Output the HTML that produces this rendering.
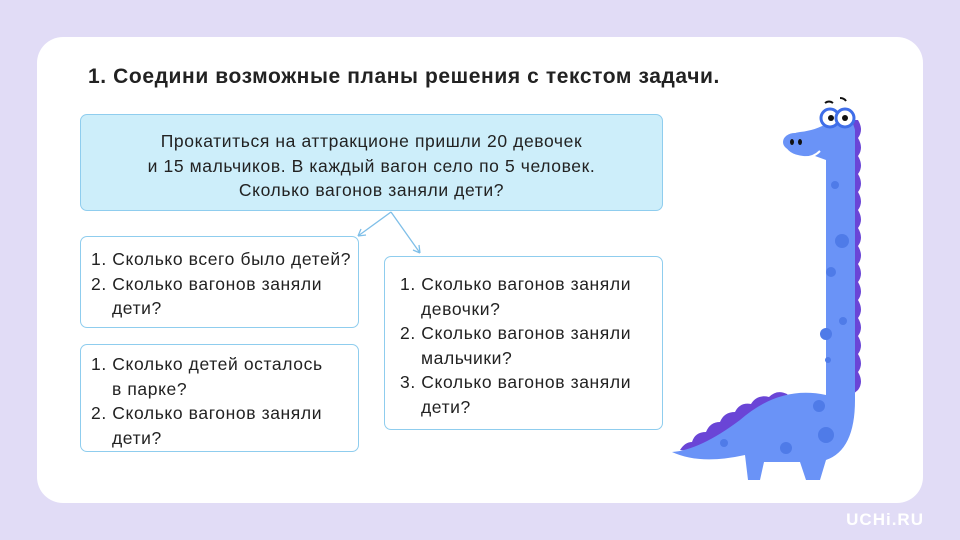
<!DOCTYPE html>
<html><head><meta charset="utf-8"><style>
body{margin:0;width:960px;height:540px;background:#e1dcf6;position:relative;overflow:hidden;font-family:"Liberation Sans",sans-serif;}
.card{position:absolute;left:37px;top:37px;width:886px;height:466px;background:#fff;border-radius:26px;}
.t{position:absolute;left:88px;top:65px;font-size:21px;letter-spacing:0.6px;font-weight:bold;color:#222;white-space:nowrap;}
.b{position:absolute;box-sizing:border-box;border:1.5px solid #8fcdee;border-radius:7px;background:#fff;font-size:17.5px;letter-spacing:0.6px;line-height:24.5px;color:#222;white-space:nowrap;}
.b p{margin:0;}
.i{padding-left:21px;}
.top{left:80px;top:114px;width:583px;height:97px;background:#cdeefa;text-align:center;padding-top:14px;}
.u{position:absolute;right:36px;bottom:10px;color:#fff;font-weight:bold;font-size:17px;letter-spacing:1px;}
</style></head><body>
<div class="card"></div>
<div class="t">1. Соедини возможные планы решения с текстом задачи.</div>
<div class="b top">Прокатиться на аттракционе пришли 20 девочек<br>и 15 мальчиков. В каждый вагон село по 5 человек.<br>Сколько вагонов заняли дети?</div>
<div class="b" style="left:80px;top:236px;width:279px;height:92px;padding:10px 0 0 10px"><p>1. Сколько всего было детей?</p><p>2. Сколько вагонов заняли</p><p class="i">дети?</p></div>
<div class="b" style="left:80px;top:344px;width:279px;height:108px;padding:7px 0 0 10px"><p>1. Сколько детей осталось</p><p class="i">в парке?</p><p>2. Сколько вагонов заняли</p><p class="i">дети?</p></div>
<div class="b" style="left:384px;top:256px;width:279px;height:174px;padding:15px 0 0 15px"><p>1. Сколько вагонов заняли</p><p class="i">девочки?</p><p>2. Сколько вагонов заняли</p><p class="i">мальчики?</p><p>3. Сколько вагонов заняли</p><p class="i">дети?</p></div>
<svg style="position:absolute;left:0;top:0" width="960" height="540">
<g stroke="#7fbfe8" stroke-width="1.3" fill="none">
<path d="M391 212 L358 236 M358 236 l8 -1 M358 236 l3 -7"/>
<path d="M391 212 L420 253 M420 253 l-1 -8 M420 253 l-7 -3"/>
</g>
<g>
<path d="M858 120 q6 10 0 18 q6 10 0 18 q6 10 0 18 q6 10 0 18 q6 10 0 18 q6 10 0 18 q6 10 0 18 q6 10 0 18 q6 10 0 18 q6 10 0 18 q6 10 0 18 q6 10 0 18 q6 10 0 18 q6 10 0 18 q6 10 0 18 L846 400 L846 120Z" fill="#6a45d6"/>
<path d="M680 450 q5 -8 12 -8 q3 -10 14 -10 q4 -10 14 -10 q4 -10 15 -10 q5 -10 16 -8 q6 -10 18 -7 q8 -8 18 -3 L800 410 L700 452Z" fill="#6a45d6"/>
<path d="M826 160 L826 395 Q780 385 740 420 Q700 450 672 452 Q700 465 745 455 L748 480 L760 480 L764 462 L800 462 L806 480 L820 480 L826 460 Q855 450 855 400 L855 130 Q850 110 835 118 Q820 130 800 132 Q785 134 785 145 Q790 158 815 156 Z" fill="#6a93f7"/>
<ellipse cx="795" cy="142" rx="12" ry="9" fill="#6a93f7"/>
<circle cx="830" cy="118" r="9" fill="#fff" stroke="#3f6ee8" stroke-width="3"/>
<circle cx="845" cy="118" r="9" fill="#fff" stroke="#3f6ee8" stroke-width="3"/>
<circle cx="831" cy="118" r="3" fill="#111"/><circle cx="845" cy="118" r="3" fill="#111"/>
<path d="M825 103 q4 -3 8 0 M840 98 q4 0 6 3" stroke="#111" stroke-width="2" fill="none"/>
<ellipse cx="792" cy="142" rx="2" ry="3" fill="#111"/><ellipse cx="800" cy="142" rx="2" ry="3" fill="#111"/>
<path d="M800 157 q12 2 20 -6" stroke="#fff" stroke-width="2" fill="none"/>
<g fill="#4f7be8"><circle cx="842" cy="241" r="7"/><circle cx="831" cy="272" r="5"/><circle cx="826" cy="334" r="6"/><circle cx="843" cy="321" r="4"/><circle cx="828" cy="360" r="3"/><circle cx="819" cy="406" r="6"/><circle cx="826" cy="435" r="8"/><circle cx="786" cy="448" r="6"/><circle cx="724" cy="443" r="4"/><circle cx="835" cy="185" r="4"/></g>
</g>
</svg>
<div class="u">UCHi.RU</div>
</body></html>
